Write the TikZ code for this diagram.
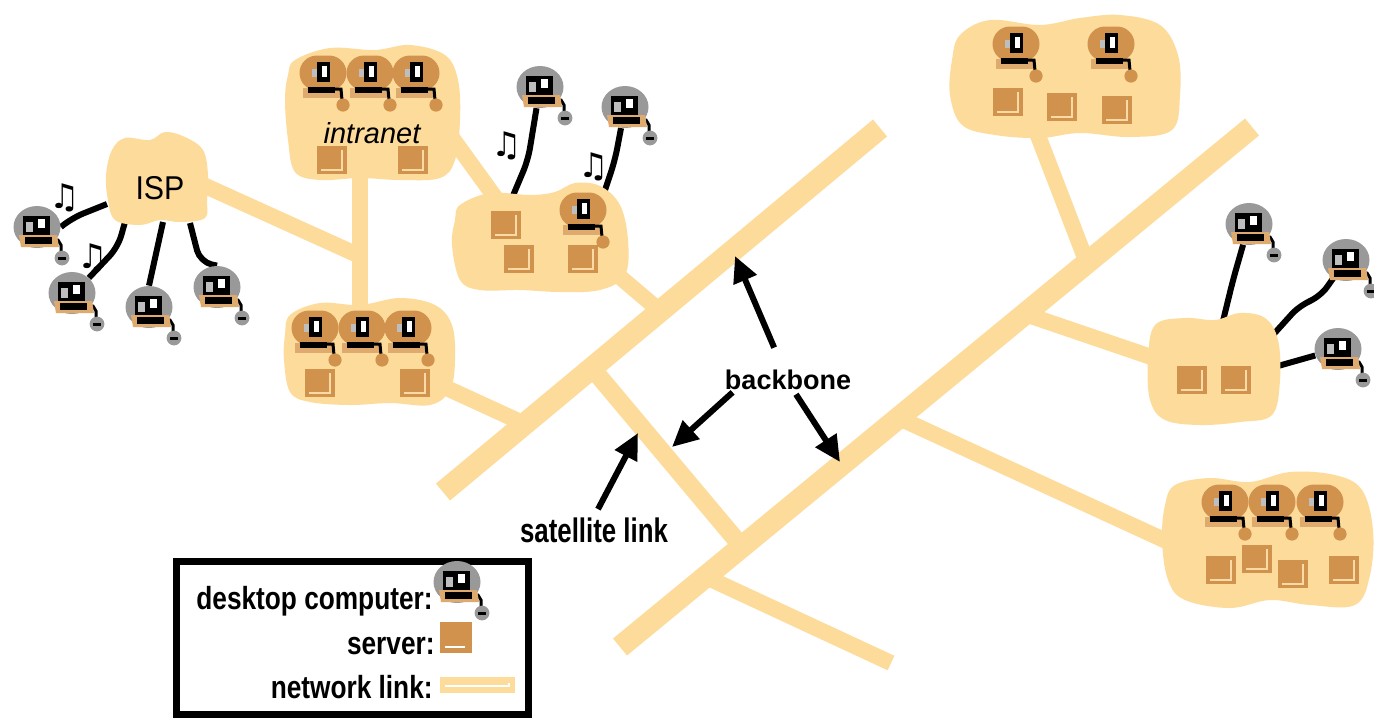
\documentclass[tikz,border=0pt]{standalone}
\usepackage{fontspec}
\usepackage{graphicx}
\setmainfont{Liberation Sans}
\newfontfamily\notefont{DejaVu Sans}
\usetikzlibrary{arrows.meta,shapes.geometric}
\pgfdeclarelayer{bottom}
\pgfdeclarelayer{cables}
\pgfsetlayers{bottom,cables,main}

\definecolor{sand}{RGB}{253,220,155}
\definecolor{srvbrown}{RGB}{208,146,76}
\definecolor{srvlight}{RGB}{250,218,165}
\definecolor{pcgrey}{RGB}{153,153,153}
\definecolor{pctan}{RGB}{222,170,110}
\definecolor{drivegrey}{RGB}{190,190,190}

\tikzset{
  every node/.style={inner sep=0pt},
  link/.style={draw=sand, line width=8pt},
  trunk/.style={draw=sand, line width=11pt},
  blob/.style={fill=sand},
  cable/.style={draw=black, line width=3pt, line join=round, rounded corners=6pt},
  callout/.style={draw=black, line width=3pt, -{Triangle[length=13pt,width=12pt]}},
  note/.style={font=\notefont\fontsize{17}{17}\selectfont},
  legendtext/.style={font=\bfseries\fontsize{16}{18}\selectfont, anchor=base east},
  pics/server/.style={code={
    \fill[srvbrown] (-15,-14) rectangle (15,14);
    \draw[srvlight, line width=1pt] (-11,10) -- (10,10) -- (10,-10);
  }},
  pics/pcgrey/.style={code={
    \node[ellipse, fill=pcgrey, minimum width=23.5pt, minimum height=21pt] (-body) at (0,-1) {};
    \draw[black, line width=1.5pt, line cap=round] (15,12) -- (21,12) -- (24,17) -- (24,25);
    \fill[pcgrey] (25,30) circle (3.7pt);
    \fill[black] (21,29) rectangle (29,32);
    \fill[black] (-14,-12) rectangle (13,7);
    \fill[drivegrey] (-11,-6) rectangle (-4,4);
    \fill[white] (1,-9) rectangle (8,0);
    \fill[pctan] (-18,7) -- (20,7) -- (22,19) -- (-16,19) -- cycle;
    \fill[black] (-12,9) rectangle (15,16);
  }},
  pics/pcbrown/.style={code={
    \node[rounded rectangle, fill=srvbrown, minimum width=23.5pt, minimum height=17.5pt] (-body) at (0,0) {};
    \fill[pctan] (-20,15) rectangle (17,25);
    \fill[black] (-15,14) rectangle (12,20);
    \draw[black, line width=1.5pt] (11,16) -- (18,16) -- (19,27);
    \fill[srvbrown] (20,32) circle (3.3pt);
    \fill[black] (-6,-11) rectangle (7,9);
    \fill[drivegrey] (-11,-4) rectangle (-6,4);
    \fill[white] (-1,-7) rectangle (4,4);
  }},
}
\usetikzlibrary{shapes.misc}

\begin{document}
\begin{tikzpicture}[x=0.5pt,y=-0.5pt]
\begin{pgfonlayer}{bottom}
\fill[white] (0,0) rectangle (1374,719);
\end{pgfonlayer}
\useasboundingbox (0,0) rectangle (1374,719);

% ---- backbone ends and junctions
\coordinate (bb1a) at (443,492);
\coordinate (bb1b) at (880,128);
\coordinate (bb2a) at (620,647);
\coordinate (bb2b) at (1252,127);
\coordinate (ispL) at (190,179);
\coordinate (vjoin) at (360,256);
\coordinate (intraS) at (360,160);
\coordinate (lowN) at (360,318);
\coordinate (intraE) at (445,128);
\coordinate (midW) at (497,200);
\coordinate (midSE) at (600,260);
\coordinate (j1) at (660,311);
\coordinate (lowE) at (440,385);
\coordinate (j2) at (525,424);
\coordinate (j3) at (592,368);
\coordinate (j4) at (743,548);
\coordinate (j5) at (706,577);
\coordinate (tailend) at (891,663);
\coordinate (trS) at (1032,120);
\coordinate (j6) at (1087,263);
\coordinate (j7) at (1025,314);
\coordinate (rmW) at (1160,360);
\coordinate (j8) at (899,418);
\coordinate (brW) at (1175,545);

% ---- network links
\draw[trunk] (bb1a) -- (bb1b);
\draw[trunk] (bb2a) -- (bb2b);
\draw[link] (ispL) -- (vjoin);
\draw[link] (intraS) -- (lowN);
\draw[link] (intraE) -- (midW);
\draw[link] (midSE) -- (j1);
\draw[link] (lowE) -- (j2);
\draw[link, line width=9pt] (j3) -- (j4);
\draw[link] (j5) -- (tailend);
\draw[link] (trS) -- (j6);
\draw[link] (j7) -- (rmW);
\draw[link] (j8) -- (brW);

% ---- clouds
\fill[blob] plot[smooth cycle, tension=0.6] coordinates {(112,150) (125,138) (150,140) (165,132) (185,137) (203,150) (208,175) (207,200) (205,218) (180,222) (160,220) (140,225) (115,220) (108,200) (106,175)};
\fill[blob] plot[smooth cycle, tension=0.6] coordinates {(295,60) (330,48) (375,50) (410,45) (445,55) (458,80) (460,120) (455,160) (440,178) (400,180) (360,178) (320,180) (295,172) (288,140) (285,100) (288,75)};
\fill[blob] plot[smooth cycle, tension=0.6] coordinates {(460,205) (490,193) (530,195) (555,192) (575,183) (600,186) (620,205) (628,240) (625,275) (600,290) (560,292) (520,290) (480,290) (460,280) (452,245) (455,220)};
\fill[blob] plot[smooth cycle, tension=0.6] coordinates {(290,315) (320,303) (360,305) (400,298) (435,305) (452,325) (455,360) (450,390) (430,405) (390,403) (350,405) (310,402) (290,392) (284,360) (285,335)};
\fill[blob] plot[smooth cycle, tension=0.6] coordinates {(960,35) (990,20) (1040,25) (1080,18) (1120,15) (1160,25) (1178,55) (1180,95) (1172,130) (1130,137) (1080,133) (1040,138) (995,135) (962,125) (950,95) (952,60)};
\fill[blob] plot[smooth cycle, tension=0.6] coordinates {(1155,325) (1185,318) (1215,320) (1240,313) (1265,318) (1278,340) (1280,380) (1272,415) (1240,422) (1200,425) (1165,420) (1150,400) (1148,360)};
\fill[blob] plot[smooth cycle, tension=0.6] coordinates {(1175,485) (1210,478) (1250,482) (1290,472) (1335,475) (1362,490) (1373,530) (1370,575) (1355,605) (1310,605) (1270,600) (1230,608) (1185,600) (1168,580) (1162,540) (1165,505)};

% ---- servers
\foreach \p in {(332,160),(413,160),(506,225),(519,259),(583,259),(320,383),(415,383),
  (1008,102),(1062,107),(1117,110),(1192,380),(1236,380),(1221,570),(1257,559),(1293,574),(1344,570)}
  \pic at \p {server};

% ---- computers inside the clouds
\pic (i1) at (323,73) {pcbrown};
\pic (i2) at (370,73) {pcbrown};
\pic (i3) at (416,73) {pcbrown};
\pic (m1) at (583,210) {pcbrown};
\pic (l1) at (315,328) {pcbrown};
\pic (l2) at (362,328) {pcbrown};
\pic (l3) at (408,328) {pcbrown};
\pic (t1) at (1016,44) {pcbrown};
\pic (t2) at (1111,44) {pcbrown};
\pic (b1) at (1225,502) {pcbrown};
\pic (b2) at (1272,502) {pcbrown};
\pic (b3) at (1320,502) {pcbrown};

% ---- computers outside the clouds
\pic (c1) at (37,228) {pcgrey};
\pic (c2) at (72,294) {pcgrey};
\pic (c3) at (149,308) {pcgrey};
\pic (c4) at (217,288) {pcgrey};
\pic (c5) at (540,88) {pcgrey};
\pic (c6) at (625,108) {pcgrey};
\pic (c7) at (1249,225) {pcgrey};
\pic (c8) at (1346,261) {pcgrey};
\pic (c9) at (1338,350) {pcgrey};

% ---- cable ports on cloud edges
\coordinate (isp-p1) at (107,204);
\coordinate (isp-p2) at (125,222);
\coordinate (isp-p3) at (163,222);
\coordinate (isp-p4) at (190,223);
\coordinate (mid-p1) at (512,198);
\coordinate (mid-p2) at (603,196);
\coordinate (rm-p1) at (1222,325);
\coordinate (rm-p2) at (1272,336);
\coordinate (rm-p3) at (1278,366);

% ---- cables, kept underneath clouds and machines
\begin{pgfonlayer}{cables}
\draw[cable] (isp-p1) -- (72,218) -- (c1-body.east);
\draw[cable] (isp-p2) -- (118,247) -- (c2-body.north east);
\draw[cable] (isp-p3) -- (c3-body.north);
\draw[cable] (isp-p4) -- (200,262) -- (c4-body.north);
\draw[cable] (mid-p1) -- (528,160) -- (c5-body);
\draw[cable] (mid-p2) -- (615,160) -- (c6-body);
\draw[cable] (rm-p1) -- (1233,280) -- (c7-body);
\draw[cable] (rm-p2) -- (1300,305) -- (1320,297) -- (c8-body);
\draw[cable] (rm-p3) -- (c9-body);
\end{pgfonlayer}

% ---- music notes
\node[note] (n1) at (65,198) {♫};
\node[note] (n2) at (93,258) {♫};
\node[note] (n3) at (507,146) {♫};
\node[note] (n4) at (594,167) {♫};

% ---- labels
\node[font=\fontsize{16.5}{18}\selectfont] (isp) at (160,188) {\scalebox{0.92}[1]{ISP}};
\node[font=\itshape\fontsize{14.5}{16}\selectfont] (intranet) at (372,133) {intranet};
\node[font=\bfseries\fontsize{13.5}{15}\selectfont] (backbone) at (788,380) {backbone};
\node[font=\bfseries\fontsize{17}{19}\selectfont] (satellite) at (594,530) {\scalebox{0.76}[1]{satellite link}};

% ---- callout arrows
\coordinate (tipA) at (735,256);
\coordinate (tipB) at (672,447);
\coordinate (tipC) at (840,462);
\coordinate (tipD) at (638,433);
\draw[callout, shorten <=12pt] (backbone) -- (tipA);
\draw[callout] ([xshift=4pt,yshift=-1pt]backbone.south west) -- (tipB);
\draw[callout] ([xshift=4pt,yshift=-2pt]backbone.south) -- (tipC);
\draw[callout] ([xshift=2pt,yshift=4pt]satellite.north) -- (tipD);

% ---- legend
\draw[line width=3.5pt] (176,561) rectangle (528,714);
\node[legendtext] (lg1) at (433,609) {\scalebox{0.82}[1]{desktop computer:}};
\node[legendtext] (lg2) at (435,654) {\scalebox{0.82}[1]{server:}};
\node[legendtext] (lg3) at (433,698) {\scalebox{0.82}[1]{network link:}};
\pic (lgpc) at (457,583) {pcgrey};
\fill[srvbrown] (440,622) rectangle (472,653);
\draw[white, line width=1pt] (445,647) -- (465,647);
\fill[sand] (440,677) rectangle (515,693);
\draw[white, line width=1pt] (445,686) -- (509,686) -- (509,683);
\end{tikzpicture}
\end{document}
